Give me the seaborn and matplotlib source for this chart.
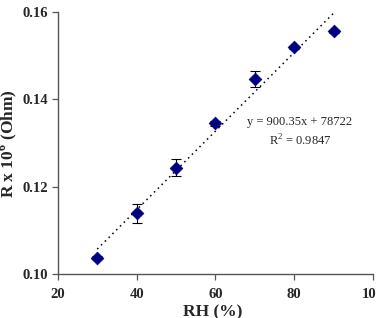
import numpy as np
import pandas as pd
import matplotlib
matplotlib.use("Agg")
import matplotlib.pyplot as plt
import seaborn as sns

# data
rh = [30, 40, 50, 60, 70, 80, 90]
resistance = [0.1038, 0.1139, 0.1244, 0.1345, 0.1447, 0.1519, 0.1556]
err = [0.0004, 0.0022, 0.0019, 0.0006, 0.0018, 0.0003, 0.0003]

# linear trend shown on the chart (scaled by 1e-6)
slope = 900.35e-6
intercept = 78722e-6
eq_text = "y = 900.35x + 78722"
r2_text = "R$^2$ = 0.9847"

sns.set_style("ticks")
plt.rcParams["font.family"] = ["Liberation Serif", "DejaVu Serif"]
plt.rcParams["mathtext.fontset"] = "custom"
plt.rcParams["mathtext.rm"] = "Liberation Serif"
plt.rcParams["mathtext.bf"] = "Liberation Serif:bold"

df = pd.DataFrame({"RH": rh, "R": resistance, "err": err})

fig = plt.figure(figsize=(3.76, 3.18), dpi=100)
ax = fig.add_axes([0.154, 0.138, 0.838, 0.824])

# trendline
xs = np.array([rh[0], rh[-1]])
ax.plot(xs, slope * xs + intercept, color="black", linestyle=(0, (1, 2.5)), linewidth=1.1)

ax.errorbar(df["RH"], df["R"], yerr=df["err"], fmt="none", ecolor="black",
            elinewidth=0.8, capsize=3.6, capthick=0.8)
sns.scatterplot(data=df, x="RH", y="R", marker="D", color="#000080",
                s=42, edgecolor="#000080", ax=ax, zorder=3)

ax.set_xlim(20, 100)
ax.set_ylim(0.10, 0.16)
ax.set_xticks([20, 40, 60, 80, 100])
ax.set_yticks([0.10, 0.12, 0.14, 0.16])
ax.set_yticklabels([f"{v:.2f}" for v in [0.10, 0.12, 0.14, 0.16]])
ax.tick_params(labelsize=10.5, length=4, width=0.9, color="#555555")
ax.tick_params(axis="x", pad=6)
ax.tick_params(axis="y", pad=3)
for lab in ax.get_xticklabels() + ax.get_yticklabels():
    lab.set_fontweight("bold")

for side in ["top", "right"]:
    ax.spines[side].set_visible(False)
for side in ["left", "bottom"]:
    ax.spines[side].set_color("#555555")
    ax.spines[side].set_linewidth(1.0)

ax.set_xlabel("RH (%)", fontsize=12.5, fontweight="bold")
ax.set_ylabel(r"R x 10$^{\mathbf{6}}$ (Ohm)", fontsize=12.5, fontweight="bold")
ax.xaxis.set_label_coords(0.492, -0.117)
ax.yaxis.set_label_coords(-0.124, 0.5)

ax.text(0.768, 0.580, eq_text, transform=ax.transAxes, fontsize=9, ha="center", va="center")
ax.text(0.768, 0.508, r2_text, transform=ax.transAxes, fontsize=9, ha="center", va="center")

fig.savefig("out.png", dpi=100)
